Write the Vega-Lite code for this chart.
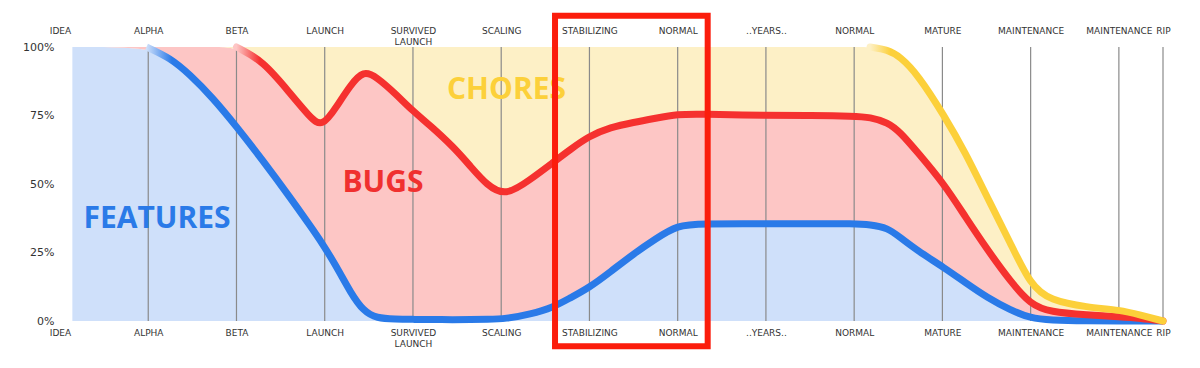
{
  "$schema": "https://vega.github.io/schema/vega-lite/v6.json",
  "width": 1103,
  "height": 274,
  "autosize": "none",
  "padding": {"left": 60, "top": 47, "right": 37, "bottom": 47},
  "background": "white",
  "config": {
    "view": {"stroke": null},
    "axis": {"domain": false, "ticks": false, "grid": false, "labelFont": "DejaVu Sans", "labelColor": "#333333", "title": null}
  },
  "datasets": {
    "curves": [
      {"x": 0.14, "features_top": 100, "bugs_top": 100, "total": 100},
      {"x": 0.98, "features_top": 100, "bugs_top": 100, "total": 100},
      {"x": 1.25, "features_top": 96, "bugs_top": 100, "total": 100},
      {"x": 1.47, "features_top": 90, "bugs_top": 100, "total": 100},
      {"x": 1.73, "features_top": 81.5, "bugs_top": 100, "total": 100},
      {"x": 2.0, "features_top": 71, "bugs_top": 100, "total": 100},
      {"x": 2.3, "features_top": 58.5, "bugs_top": 95, "total": 100},
      {"x": 2.61, "features_top": 45, "bugs_top": 83, "total": 100},
      {"x": 2.83, "features_top": 35, "bugs_top": 74.5, "total": 100},
      {"x": 2.97, "features_top": 28.5, "bugs_top": 70.5, "total": 100},
      {"x": 3.14, "features_top": 19.5, "bugs_top": 78.5, "total": 100},
      {"x": 3.29, "features_top": 10.5, "bugs_top": 86, "total": 100},
      {"x": 3.44, "features_top": 3.5, "bugs_top": 91.5, "total": 100},
      {"x": 3.59, "features_top": 1, "bugs_top": 89, "total": 100},
      {"x": 3.8, "features_top": 0.7, "bugs_top": 83, "total": 100},
      {"x": 4.0, "features_top": 0.6, "bugs_top": 76.6, "total": 100},
      {"x": 4.19, "features_top": 0.5, "bugs_top": 71.5, "total": 100},
      {"x": 4.46, "features_top": 0.5, "bugs_top": 63.5, "total": 100},
      {"x": 4.65, "features_top": 0.5, "bugs_top": 56.5, "total": 100},
      {"x": 4.84, "features_top": 0.6, "bugs_top": 49.5, "total": 100},
      {"x": 5.05, "features_top": 0.8, "bugs_top": 45.5, "total": 100},
      {"x": 5.33, "features_top": 2.5, "bugs_top": 51.6, "total": 100},
      {"x": 5.59, "features_top": 5, "bugs_top": 57.9, "total": 100},
      {"x": 5.78, "features_top": 8.4, "bugs_top": 62.5, "total": 100},
      {"x": 5.99, "features_top": 12, "bugs_top": 67.4, "total": 100},
      {"x": 6.24, "features_top": 18, "bugs_top": 70.7, "total": 100},
      {"x": 6.5, "features_top": 24.5, "bugs_top": 72.5, "total": 100},
      {"x": 6.75, "features_top": 30, "bugs_top": 74, "total": 100},
      {"x": 7.0, "features_top": 35, "bugs_top": 75.5, "total": 100},
      {"x": 7.26, "features_top": 35.5, "bugs_top": 75.5, "total": 100},
      {"x": 8.03, "features_top": 35.5, "bugs_top": 75, "total": 100},
      {"x": 8.5, "features_top": 35.5, "bugs_top": 75, "total": 100},
      {"x": 9.0, "features_top": 35.5, "bugs_top": 74.8, "total": 100},
      {"x": 9.18, "features_top": 35.2, "bugs_top": 74.4, "total": 100},
      {"x": 9.38, "features_top": 34, "bugs_top": 72.5, "total": 99},
      {"x": 9.52, "features_top": 30.5, "bugs_top": 69, "total": 96.5},
      {"x": 9.72, "features_top": 25.6, "bugs_top": 61.5, "total": 90},
      {"x": 10.02, "features_top": 19.5, "bugs_top": 50, "total": 75},
      {"x": 10.26, "features_top": 14, "bugs_top": 38, "total": 61.5},
      {"x": 10.51, "features_top": 8.5, "bugs_top": 26, "total": 45},
      {"x": 10.77, "features_top": 4, "bugs_top": 14.5, "total": 28.5},
      {"x": 11.0, "features_top": 1, "bugs_top": 6, "total": 13},
      {"x": 11.22, "features_top": 0.3, "bugs_top": 3.3, "total": 7.5},
      {"x": 11.64, "features_top": 0, "bugs_top": 2.2, "total": 5},
      {"x": 12.02, "features_top": 0, "bugs_top": 1.5, "total": 4},
      {"x": 12.24, "features_top": 0, "bugs_top": 1, "total": 2.2},
      {"x": 12.5, "features_top": 0, "bugs_top": 0, "total": 0}
    ],
    "stages": [
      {"x": 1}, {"x": 2}, {"x": 3}, {"x": 4}, {"x": 5}, {"x": 6}, {"x": 7},
      {"x": 8}, {"x": 9}, {"x": 10}, {"x": 11}, {"x": 12}, {"x": 12.5}
    ],
    "labels": [
      {"label": "FEATURES", "x": 1.1, "y": 37.2},
      {"label": "BUGS", "x": 3.66, "y": 50.4},
      {"label": "CHORES", "x": 5.06, "y": 84.3}
    ],
    "highlight": [
      {"from": 5.61, "to": 7.34, "top": 111.4, "bottom": -9.2}
    ]
  },
  "resolve": {"axis": {"x": "independent"}},
  "layer": [
    {
      "data": {"name": "curves"},
      "mark": {"type": "area", "interpolate": "basis", "color": "#cfe0fa"},
      "encoding": {
        "x": {"field": "x", "type": "quantitative", "scale": {"domain": [0, 12.5], "nice": false, "zero": false},
          "axis": {"orient": "bottom", "values": [0,1,2,3,4,5,6,7,8,9,10,11,12,12.5],
            "labelExpr": "[['IDEA'],['ALPHA'],['BETA'],['LAUNCH'],['SURVIVED','LAUNCH'],['SCALING'],['STABILIZING'],['NORMAL'],['..YEARS..'],['NORMAL'],['MATURE'],['MAINTENANCE'],['MAINTENANCE'],['RIP']][datum.value == 12.5 ? 13 : datum.value]",
            "labelBaseline": "top", "labelPadding": 7, "labelFontSize": 9, "labelLineHeight": 11, "labelFlush": false, "labelOverlap": false}},
        "y": {"field": "features_top", "type": "quantitative", "stack": null, "scale": {"domain": [0, 100], "nice": false},
          "axis": {"values": [0, 25, 50, 75, 100], "labelExpr": "datum.value + '%'", "labelFontSize": 11, "labelPadding": 6, "labelColor": "#333333"}},
        "y2": {"datum": 0}
      }
    },
    {
      "data": {"name": "curves"},
      "mark": {"type": "area", "interpolate": "basis", "color": "#fdc6c5"},
      "encoding": {
        "x": {"field": "x", "type": "quantitative", "axis": null},
        "y": {"field": "bugs_top", "type": "quantitative", "stack": null},
        "y2": {"field": "features_top"}
      }
    },
    {
      "data": {"name": "curves"},
      "mark": {"type": "area", "interpolate": "basis", "color": "#fdf0c6"},
      "encoding": {
        "x": {"field": "x", "type": "quantitative", "axis": null},
        "y": {"field": "total", "type": "quantitative", "stack": null},
        "y2": {"field": "bugs_top"}
      }
    },
    {
      "data": {"name": "stages"},
      "mark": {"type": "rule", "color": "#8a8a8a", "strokeWidth": 1.2},
      "encoding": {
        "x": {"field": "x", "type": "quantitative",
          "axis": {"orient": "top", "values": [0,1,2,3,4,5,6,7,8,9,10,11,12,12.5],
            "labelExpr": "[['IDEA'],['ALPHA'],['BETA'],['LAUNCH'],['SURVIVED','LAUNCH'],['SCALING'],['STABILIZING'],['NORMAL'],['..YEARS..'],['NORMAL'],['MATURE'],['MAINTENANCE'],['MAINTENANCE'],['RIP']][datum.value == 12.5 ? 13 : datum.value]",
            "labelBaseline": "top", "labelPadding": 21, "labelFontSize": 9, "labelLineHeight": 11, "labelFlush": false, "labelOverlap": false}},
        "y": {"datum": 0, "type": "quantitative"},
        "y2": {"datum": 100}
      }
    },
    {
      "data": {"name": "curves"},
      "transform": [{"filter": "datum.x >= 0.98"}],
      "mark": {"type": "line", "interpolate": "basis", "strokeWidth": 7, "strokeCap": "butt", "strokeJoin": "round",
        "color": {"gradient": "linear", "x1": 0, "x2": 1, "y1": 0, "y2": 0, "stops": [{"offset": 0, "color": "#cfe0fa"}, {"offset": 0.025, "color": "#2a7ae8"}, {"offset": 1, "color": "#2a7ae8"}]}},
      "encoding": {
        "x": {"field": "x", "type": "quantitative", "axis": null},
        "y": {"field": "features_top", "type": "quantitative"}
      }
    },
    {
      "data": {"name": "curves"},
      "transform": [{"filter": "datum.x >= 2.0"}],
      "mark": {"type": "line", "interpolate": "basis", "strokeWidth": 7, "strokeCap": "round", "strokeJoin": "round",
        "color": {"gradient": "linear", "x1": 0, "x2": 1, "y1": 0, "y2": 0, "stops": [{"offset": 0, "color": "#fdc6c5"}, {"offset": 0.025, "color": "#f5312f"}, {"offset": 1, "color": "#f5312f"}]}},
      "encoding": {
        "x": {"field": "x", "type": "quantitative", "axis": null},
        "y": {"field": "bugs_top", "type": "quantitative"}
      }
    },
    {
      "data": {"name": "curves"},
      "transform": [{"filter": "datum.x >= 9.18"}],
      "mark": {"type": "line", "interpolate": "basis", "strokeWidth": 7, "strokeCap": "round", "strokeJoin": "round",
        "color": {"gradient": "linear", "x1": 0, "x2": 1, "y1": 0, "y2": 0, "stops": [{"offset": 0, "color": "#fdf0c6"}, {"offset": 0.07, "color": "#fcd03a"}, {"offset": 1, "color": "#fcd03a"}]}},
      "encoding": {
        "x": {"field": "x", "type": "quantitative", "axis": null},
        "y": {"field": "total", "type": "quantitative"}
      }
    },
    {
      "data": {"name": "labels"},
      "mark": {"type": "text", "font": "Open Sans", "fontWeight": "bold", "fontSize": 30, "align": "center", "baseline": "middle"},
      "encoding": {
        "x": {"field": "x", "type": "quantitative", "axis": null},
        "y": {"field": "y", "type": "quantitative"},
        "text": {"field": "label"},
        "color": {"field": "label", "type": "nominal", "legend": null,
          "scale": {"domain": ["FEATURES", "BUGS", "CHORES"], "range": ["#2a7ae8", "#f0302f", "#fcd03a"]}}
      }
    },
    {
      "data": {"name": "highlight"},
      "mark": {"type": "rect", "filled": false, "stroke": "#fb1d0c", "strokeWidth": 6},
      "encoding": {
        "x": {"field": "from", "type": "quantitative", "axis": null},
        "x2": {"field": "to"},
        "y": {"field": "top", "type": "quantitative"},
        "y2": {"field": "bottom"}
      }
    }
  ]
}
